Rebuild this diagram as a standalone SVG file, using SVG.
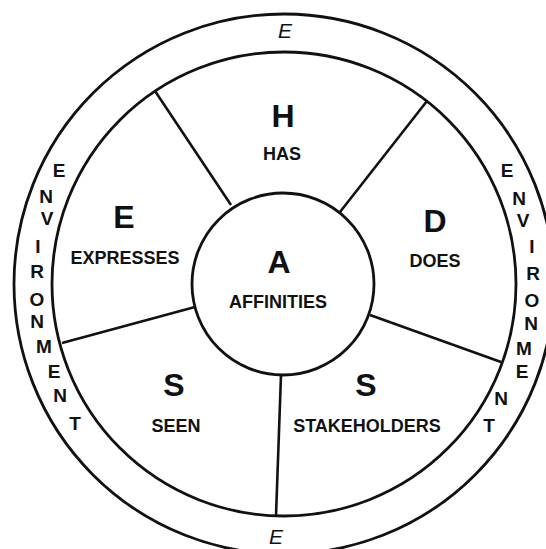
<svg xmlns="http://www.w3.org/2000/svg" width="546" height="549" viewBox="0 0 546 549">
<style>
.ring{fill:none;stroke:#111;stroke-width:2.8}
.spoke{stroke:#111;stroke-width:2.6;fill:none}
.big{font-family:"Liberation Sans",Arial,sans-serif;font-weight:bold;font-size:32px;fill:#111;text-anchor:middle}
.lbl{font-family:"Liberation Sans",Arial,sans-serif;font-weight:bold;font-size:18px;fill:#111;text-anchor:middle}
.env{font-family:"Liberation Sans",Arial,sans-serif;font-weight:bold;font-size:19px;fill:#111;text-anchor:middle}
.ei{font-family:"Liberation Sans",Arial,sans-serif;font-style:italic;font-size:21px;fill:#111;text-anchor:middle}
</style>
<rect width="546" height="549" fill="#fff"/>
<g id="environment">
<circle class="ring" cx="284" cy="284" r="270"/>
<circle class="ring" cx="284" cy="284" r="232"/>
<text class="ei" x="285" y="38">E</text>
<text class="ei" x="276" y="544">E</text>
<text class="env" x="59" y="177">E</text>
<text class="env" x="46" y="203">N</text>
<text class="env" x="47" y="225">V</text>
<text class="env" x="38" y="253">I</text>
<text class="env" x="37" y="278">R</text>
<text class="env" x="37" y="306">O</text>
<text class="env" x="37" y="328">N</text>
<text class="env" x="44" y="353">M</text>
<text class="env" x="54" y="378">E</text>
<text class="env" x="60" y="402">N</text>
<text class="env" x="75" y="430">T</text>
<text class="env" x="507" y="177">E</text>
<text class="env" x="519" y="205">N</text>
<text class="env" x="523" y="227">V</text>
<text class="env" x="532" y="253">I</text>
<text class="env" x="533" y="280">R</text>
<text class="env" x="532" y="307">O</text>
<text class="env" x="531" y="330">N</text>
<text class="env" x="524" y="355">M</text>
<text class="env" x="522" y="378">E</text>
<text class="env" x="501" y="405">N</text>
<text class="env" x="489" y="432">T</text>
</g>
<g id="connectors">
<line class="spoke" x1="155" y1="91" x2="231" y2="205"/>
<line class="spoke" x1="427" y1="101" x2="340" y2="212"/>
<line class="spoke" x1="62" y1="343" x2="195" y2="307"/>
<line class="spoke" x1="501" y1="362" x2="370" y2="315"/>
<line class="spoke" x1="276" y1="516" x2="281" y2="375"/>
</g>
<g id="node-affinities">
<circle class="ring" cx="283" cy="284" r="91" fill="#fff"/>
<text class="big" x="279" y="273">A</text>
<text class="lbl" x="278" y="308">AFFINITIES</text>
</g>
<g id="node-has">
<text class="big" x="283" y="127">H</text>
<text class="lbl" x="282" y="160">HAS</text>
</g>
<g id="node-expresses">
<text class="big" x="124" y="228">E</text>
<text class="lbl" x="125" y="264">EXPRESSES</text>
</g>
<g id="node-does">
<text class="big" x="435" y="232">D</text>
<text class="lbl" x="435" y="267">DOES</text>
</g>
<g id="node-seen">
<text class="big" x="174" y="396">S</text>
<text class="lbl" x="176" y="432">SEEN</text>
</g>
<g id="node-stakeholders">
<text class="big" x="366" y="396">S</text>
<text class="lbl" x="367" y="432">STAKEHOLDERS</text>
</g>
</svg>
